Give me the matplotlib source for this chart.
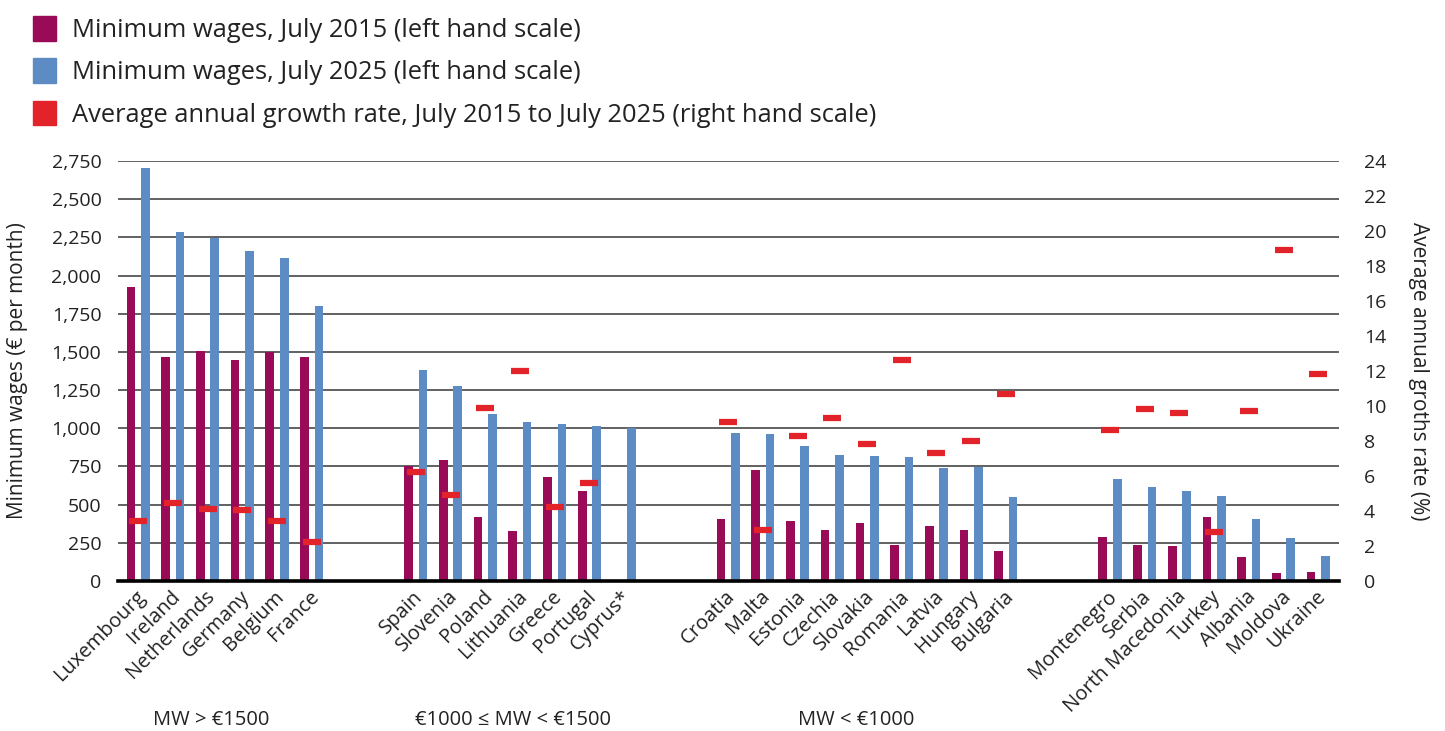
import numpy as np
from matplotlib import pyplot as plt
from matplotlib.patches import Patch
from matplotlib.transforms import blended_transform_factory, ScaledTranslation

plt.rcParams['font.family'] = ['Open Sans', 'DejaVu Sans']

# Data
groups = [
    ['Luxembourg', 'Ireland', 'Netherlands', 'Germany', 'Belgium', 'France'],
    ['Spain', 'Slovenia', 'Poland', 'Lithuania', 'Greece', 'Portugal', 'Cyprus*'],
    ['Croatia', 'Malta', 'Estonia', 'Czechia', 'Slovakia', 'Romania', 'Latvia',
     'Hungary', 'Bulgaria'],
    ['Montenegro', 'Serbia', 'North Macedonia', 'Turkey', 'Albania', 'Moldova',
     'Ukraine'],
]
group_labels = ['MW > €1500', '€1000 ≤ MW < €1500', 'MW < €1000']

mw_2015 = [1923, 1467, 1505, 1450, 1502, 1467,
           756, 791, 418, 325, 684, 589, np.nan,
           405, 728, 390, 332, 380, 234, 360, 333, 194,
           288, 235, 228, 422, 157, 55, 60]
mw_2025 = [2704, 2282, 2246, 2161, 2112, 1802,
           1381, 1278, 1091, 1038, 1027, 1015, 1000,
           970, 961, 886, 826, 816, 814, 740, 749, 551,
           670, 617, 586, 557, 408, 283, 161]
growth = [3.45, 4.46, 4.1, 4.08, 3.45, 2.2,
          6.2, 4.9, 9.9, 12.0, 4.2, 5.6, np.nan,
          9.1, 2.9, 8.3, 9.3, 7.8, 12.6, 7.3, 8.0, 10.7,
          8.6, 9.8, 9.6, 2.8, 9.7, 18.9, 11.8]

countries = [c for g in groups for c in g]
# two empty slots between groups
x = []
pos = 0
for g in groups:
    x.extend(range(pos, pos + len(g)))
    pos += len(g) + 2
x = np.array(x, dtype=float)
group_x = [2.1, 10.8, 20.7]

col_2015 = '#990a57'
col_2025 = '#5d8cc4'
col_growth = '#e3232a'

fig = plt.figure(figsize=(14.45, 7.31), dpi=100)
ax = fig.add_axes([0.0817, 0.2052, 0.845, 0.5746])
ax2 = ax.twinx()

off = 0.207
bw = 0.25
ax.bar(x - off, mw_2015, width=bw, color=col_2015, zorder=3)
ax.bar(x + off, mw_2025, width=bw, color=col_2025, zorder=3)
ax2.plot(x, growth, linestyle='none', marker='_', markersize=13,
         markeredgewidth=4.5, color=col_growth)

# Axes settings
ax.set_xlim(-0.58, 34.6)
ax.set_ylim(0, 2750)
ax2.set_ylim(0, 24)
ax.set_yticks(np.arange(0, 2751, 250))
ax.set_yticklabels([f'{v:,}' for v in range(0, 2751, 250)])
ax2.set_yticks(np.arange(0, 25, 2))
ax.yaxis.grid(True, color='#555555', linewidth=1.3, zorder=0)
ax.set_axisbelow(True)

for a in (ax, ax2):
    for s in ('top', 'left', 'right', 'bottom'):
        a.spines[s].set_visible(False)
ax.spines['bottom'].set_visible(True)
ax.spines['bottom'].set_color('black')
ax.spines['bottom'].set_linewidth(2.6)
ax.spines['bottom'].set_zorder(4)

ax.tick_params(axis='y', length=0, pad=12, labelsize=14, colors='#222222')
ax2.tick_params(axis='y', length=0, pad=18, labelsize=14, colors='#222222')
ax.set_xticks(x)
ax.set_xticklabels(countries, rotation=45, ha='right', va='top',
                   rotation_mode='anchor', fontsize=14.5, color='#222222')
ax.tick_params(axis='x', length=0, pad=4)
shift = ScaledTranslation(-3 / 100, 0, fig.dpi_scale_trans)
for lab in ax.get_xticklabels():
    lab.set_transform(lab.get_transform() + shift)

ax.set_ylabel('Minimum wages (€ per month)', fontsize=15, color='#222222',
              va='center')
ax.yaxis.set_label_coords(-0.082, 0.5)
ax2.set_ylabel('Average annual groths rate (%)', fontsize=15, color='#222222',
               rotation=-90, va='center')
ax2.yaxis.set_label_coords(1.0647, 0.5)

trans = blended_transform_factory(ax.transData, ax.transAxes)
for gx, lab in zip(group_x, group_labels):
    ax.text(gx, -0.33, lab, transform=trans, ha='center', va='center',
            fontsize=14.5, color='#222222')

handles = [Patch(color=col_2015), Patch(color=col_2025), Patch(color=col_growth)]
labels = ['Minimum wages, July 2015 (left hand scale)',
          'Minimum wages, July 2025 (left hand scale)',
          'Average annual growth rate, July 2015 to July 2025 (right hand scale)']
fig.legend(handles, labels, loc='upper left',
           bbox_to_anchor=(33 / 1445, 1 - 16 / 731), frameon=False,
           fontsize=18.4, handlelength=0.9, handleheight=1.1,
           handletextpad=0.62, labelspacing=0.6, borderpad=0,
           borderaxespad=0, labelcolor='#222222')

fig.savefig('out.png', dpi=100)
